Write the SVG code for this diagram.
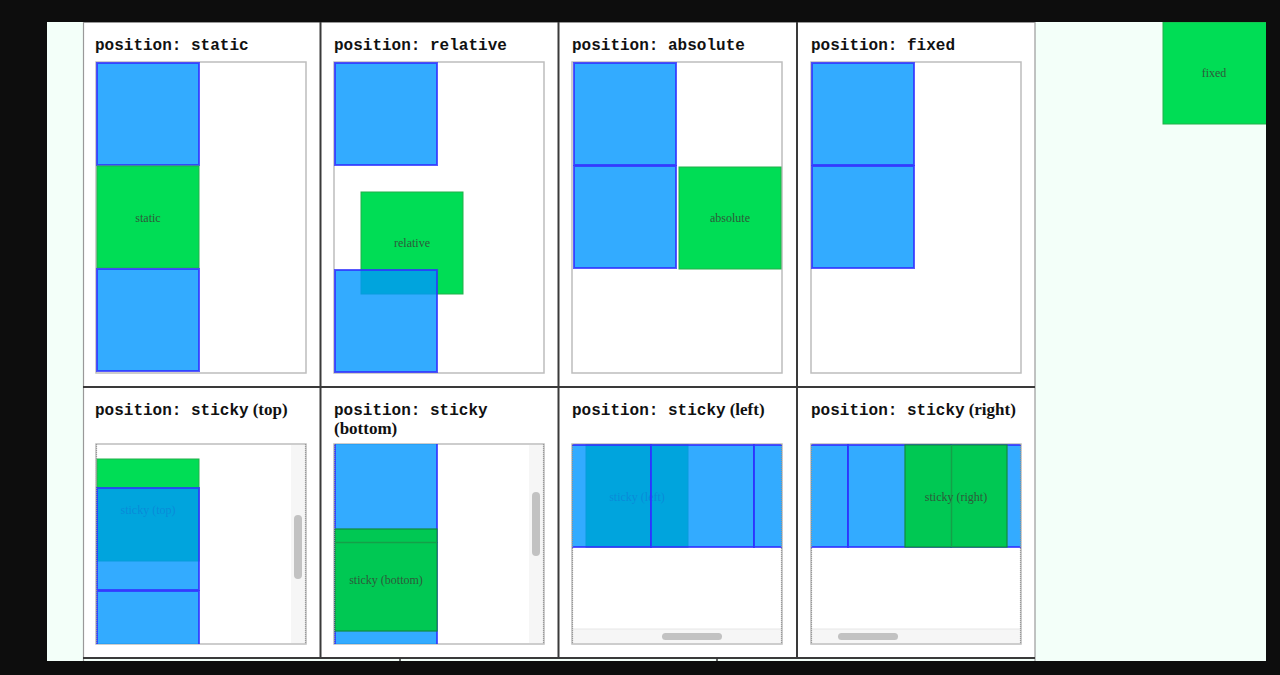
<svg xmlns="http://www.w3.org/2000/svg" width="1280" height="675" viewBox="0 0 1280 675">
<style>
.title{font-family:"Liberation Mono","DejaVu Sans Mono",monospace;font-weight:bold;font-size:16px;fill:#111}
.stitle{font-family:"Liberation Serif","DejaVu Serif",serif;font-weight:bold;font-size:17px;fill:#111}
.lbl{font-family:"Liberation Serif","DejaVu Serif",serif;font-size:12px;fill:#2e5a3a;text-anchor:middle}
.cell{fill:#ffffff}
.box{fill:#ffffff;stroke:#bdbdbd;stroke-width:1.5}
.blue{fill:rgb(0,150,255);fill-opacity:0.8;stroke:#3030ff;stroke-opacity:0.8;stroke-width:2}
.green{fill:#00dd55;stroke:#22b04a;stroke-width:1}
.dgreen{fill:#00c853;stroke:#128a3c;stroke-width:1.2}
.track{fill:#f6f6f6}
.thumb{fill:#c2c2c2}
.dots{stroke:#999;stroke-width:1.2;stroke-dasharray:1 1;fill:none}
.grid{stroke:#3a3a3a;stroke-width:2;fill:none}
.gridl{stroke:#999;stroke-width:1.2;fill:none}
</style>
<defs>
<clipPath id="c5"><rect x="96" y="444" width="210" height="200"/></clipPath>
<clipPath id="c6"><rect x="334" y="444" width="210" height="200"/></clipPath>
<clipPath id="c7"><rect x="572" y="444" width="210" height="200"/></clipPath>
<clipPath id="c8"><rect x="811" y="444" width="210" height="200"/></clipPath>
<clipPath id="cpage"><rect x="47" y="22" width="1219" height="639"/></clipPath>
</defs>
<rect x="0" y="0" width="1280" height="675" fill="#0d0d0d"/>
<rect x="47" y="22" width="1219" height="639" fill="#f3fff9"/>

<g id="grid">
<rect class="cell" x="83" y="22" width="952" height="637"/>
<line class="gridl" x1="83" y1="22.5" x2="1035" y2="22.5"/>
<line class="gridl" x1="83.5" y1="22" x2="83.5" y2="661"/>
<line class="gridl" x1="1035" y1="22" x2="1035" y2="661"/>
<line class="grid" x1="320.5" y1="22" x2="320.5" y2="659"/>
<line class="grid" x1="558.5" y1="22" x2="558.5" y2="659"/>
<line class="grid" x1="797" y1="22" x2="797" y2="659"/>
<line class="grid" x1="83" y1="387" x2="1035" y2="387"/>
<line class="grid" x1="83" y1="658" x2="1035" y2="658"/>
<line x1="400" y1="658" x2="400" y2="661" stroke="#333" stroke-width="1.5"/>
<line x1="717" y1="658" x2="717" y2="661" stroke="#333" stroke-width="1.5"/>
</g>

<g id="panel-static">
<text class="title" x="95" y="50">position: static</text>
<rect class="box" x="96" y="62" width="210" height="311"/>
<rect class="blue" x="97" y="63" width="102" height="102"/>
<rect class="green" x="97" y="166" width="102" height="102"/>
<text class="lbl" x="148" y="222">static</text>
<rect class="blue" x="97" y="269" width="102" height="102"/>
</g>

<g id="panel-relative">
<text class="title" x="334" y="50">position: relative</text>
<rect class="box" x="334" y="62" width="210" height="311"/>
<rect class="blue" x="335" y="63" width="102" height="102"/>
<rect class="green" x="361" y="192" width="102" height="102"/>
<text class="lbl" x="412" y="247">relative</text>
<rect class="blue" x="335" y="270" width="102" height="102"/>
</g>

<g id="panel-absolute">
<text class="title" x="572" y="50">position: absolute</text>
<rect class="box" x="572" y="62" width="210" height="311"/>
<rect class="blue" x="574" y="63" width="102" height="102"/>
<rect class="blue" x="574" y="166" width="102" height="102"/>
<rect class="green" x="679" y="167" width="102" height="102"/>
<text class="lbl" x="730" y="222">absolute</text>
</g>

<g id="panel-fixed">
<text class="title" x="811" y="50">position: fixed</text>
<rect class="box" x="811" y="62" width="210" height="311"/>
<rect class="blue" x="812" y="63" width="102" height="102"/>
<rect class="blue" x="812" y="166" width="102" height="102"/>
</g>

<g id="fixed-box" clip-path="url(#cpage)">
<rect class="green" x="1163" y="22" width="106" height="102"/>
<text class="lbl" x="1214" y="77">fixed</text>
</g>

<g id="panel-sticky-top">
<text class="title" x="95" y="415">position: sticky<tspan class="stitle" dx="4">(top)</tspan></text>
<rect class="box" x="96" y="444" width="210" height="200"/>
<g clip-path="url(#c5)">
<rect class="green" x="97" y="459" width="102" height="102"/>
<text class="lbl" x="148" y="514">sticky (top)</text>
<rect class="blue" x="97" y="488" width="102" height="102"/>
<rect class="blue" x="97" y="591" width="102" height="102"/>
</g>
<rect class="track" x="291" y="445" width="14" height="198"/>
<rect class="thumb" x="294" y="515" width="8" height="64" rx="4"/>
<line class="dots" x1="96.5" y1="444" x2="96.5" y2="644"/>
<line class="dots" x1="305.5" y1="444" x2="305.5" y2="644"/>
</g>

<g id="panel-sticky-bottom">
<text class="title" x="334" y="415">position: sticky</text>
<text class="stitle" x="334" y="434">(bottom)</text>
<rect class="box" x="334" y="444" width="210" height="200"/>
<g clip-path="url(#c6)">
<rect class="blue" x="335" y="440" width="102" height="102"/>
<rect class="blue" x="335" y="543" width="102" height="102"/>
<rect class="dgreen" x="335" y="529" width="102" height="102"/>
<line x1="335" y1="542.5" x2="437" y2="542.5" stroke="#14a048" stroke-width="1.5"/>
<text class="lbl" x="386" y="584">sticky (bottom)</text>
</g>
<rect class="track" x="529" y="445" width="14" height="198"/>
<rect class="thumb" x="532" y="492" width="8" height="64" rx="4"/>
<line class="dots" x1="334.5" y1="444" x2="334.5" y2="644"/>
<line class="dots" x1="543.5" y1="444" x2="543.5" y2="644"/>
</g>

<g id="panel-sticky-left">
<text class="title" x="572" y="415">position: sticky<tspan class="stitle" dx="4">(left)</tspan></text>
<rect class="box" x="572" y="444" width="210" height="200"/>
<g clip-path="url(#c7)">
<rect class="green" x="586" y="445" width="102" height="102"/>
<text class="lbl" x="637" y="501">sticky (left)</text>
<rect class="blue" x="548" y="445" width="103" height="102"/>
<rect class="blue" x="651" y="445" width="103" height="102"/>
<rect class="blue" x="754" y="445" width="103" height="102"/>
</g>
<rect class="track" x="573" y="629" width="208" height="14"/>
<line x1="573" y1="629" x2="781" y2="629" stroke="#e6e6e6" stroke-width="1"/>
<rect class="thumb" x="662" y="633" width="60" height="7" rx="3.5"/>
<line class="dots" x1="572.5" y1="444" x2="572.5" y2="644"/>
<line class="dots" x1="781.5" y1="444" x2="781.5" y2="644"/>
</g>

<g id="panel-sticky-right">
<text class="title" x="811" y="415">position: sticky<tspan class="stitle" dx="4">(right)</tspan></text>
<rect class="box" x="811" y="444" width="210" height="200"/>
<g clip-path="url(#c8)">
<rect class="blue" x="745" y="445" width="103" height="102"/>
<rect class="blue" x="848" y="445" width="103" height="102"/>
<rect class="blue" x="951" y="445" width="103" height="102"/>
<rect class="dgreen" x="905" y="445" width="102" height="102"/>
<line x1="951.5" y1="445" x2="951.5" y2="547" stroke="#14a048" stroke-width="1.5"/>
<text class="lbl" x="956" y="501">sticky (right)</text>
</g>
<rect class="track" x="812" y="629" width="208" height="14"/>
<line x1="812" y1="629" x2="1020" y2="629" stroke="#e6e6e6" stroke-width="1"/>
<rect class="thumb" x="838" y="633" width="60" height="7" rx="3.5"/>
<line class="dots" x1="811.5" y1="444" x2="811.5" y2="644"/>
<line class="dots" x1="1020.5" y1="444" x2="1020.5" y2="644"/>
</g>
</svg>
